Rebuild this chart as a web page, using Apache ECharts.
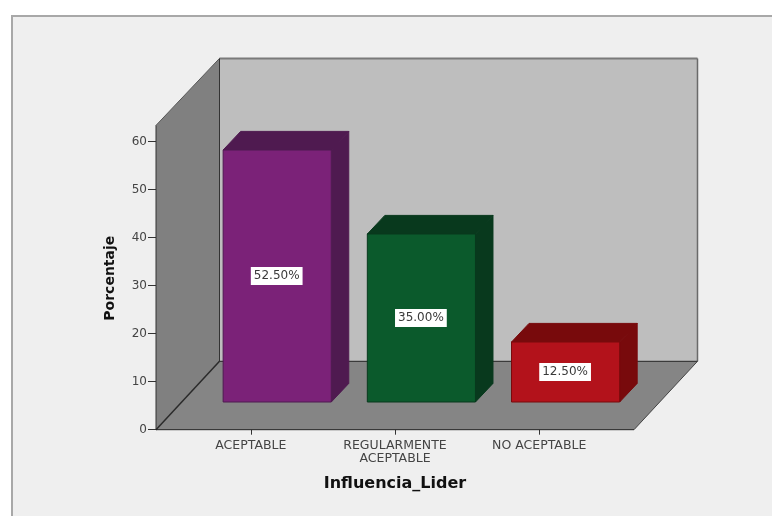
<!DOCTYPE html>
<html>
<head>
<meta charset="utf-8">
<style>html,body{margin:0;padding:0;background:#fff}#chart{width:772px;height:516px}</style>
<script src="https://cdn.jsdelivr.net/npm/echarts@6/dist/echarts.min.js"></script>
</head>
<body>
<div id="chart"></div>
<script>
// Influencia_Lider: percentage per category
const categories = ['ACEPTABLE', 'REGULARMENTE\nACEPTABLE', 'NO ACEPTABLE'];
const porcentajes = [52.5, 35.0, 12.5];
const frontColors = ['#7b2278', '#0b5a2c', '#b3121b'];
const shadeColors = ['#4f1a50', '#08391d', '#780a0c'];

// Box geometry in pixels
const WALL_TOP_VALUE = 63.4;   // height of the room on the value scale
const ROOM_DX = 63.5, ROOM_DY = 68.4, ROOM_TOP_DY = 67;   // depth of the room
const ROOM_SIDE = 22.7;        // floor overhang beyond the category band area
const BAR_DX = 26.4, BAR_DY = 27.7;     // bars stand in the middle of the floor
const BAR_DEPTH_X = 17.5, BAR_DEPTH_Y = 18.6;
const BAR_RATIO = 0.75;

const poly = (points, fill, stroke, lineWidth) => ({
  type: 'polygon',
  shape: { points },
  style: { fill, stroke: stroke || null, lineWidth: lineWidth || 0 }
});
const line = (x1, y1, x2, y2, stroke, lineWidth) => ({
  type: 'line',
  shape: { x1, y1, x2, y2 },
  style: { stroke, lineWidth: lineWidth || 1 }
});

function renderRoom(params, api) {
  const cs = params.coordSys;
  const y0 = api.coord([0, 0])[1];
  const yTop = api.coord([0, WALL_TOP_VALUE])[1];
  const xL = cs.x - ROOM_SIDE, xR = cs.x + cs.width + ROOM_SIDE;
  const bxL = xL + ROOM_DX, bxR = xR + ROOM_DX;
  const by0 = y0 - ROOM_DY, byTop = yTop - ROOM_TOP_DY;
  return {
    type: 'group',
    children: [
      poly([[bxL, byTop], [bxR, byTop], [bxR, by0], [bxL, by0]], '#bebebe'),
      poly([[xL, yTop], [bxL, byTop], [bxL, by0], [xL, y0]], '#808080'),
      poly([[xL, y0], [bxL, by0], [bxR, by0], [xR, y0]], '#858585'),
      line(xL, yTop, bxL, byTop, '#555', 1),
      line(bxL, byTop, bxR, byTop, '#7a7a7a', 2),
      line(bxR, byTop, bxR, by0, '#6a6a6a', 1.5),
      line(bxL, byTop, bxL, by0, '#333', 1),
      line(xL, yTop, xL, y0, '#333', 1),
      line(xL, y0, bxL, by0, '#2a2a2a', 1.5),
      line(bxL, by0, bxR, by0, '#222', 1),
      line(bxR, by0, xR, y0, '#444', 1),
      line(xL, y0, xR, y0, '#222', 1)
    ]
  };
}

function renderBar(params, api) {
  const i = api.value(0), v = api.value(1);
  const band = api.size([1, 0])[0];
  const w = band * BAR_RATIO;
  const cx = api.coord([i, 0])[0] + BAR_DX;
  const yB = api.coord([i, 0])[1] - BAR_DY;
  const yT = api.coord([i, v])[1] - BAR_DY;
  const xL = cx - w / 2, xR = cx + w / 2;
  const dx = BAR_DEPTH_X, dy = BAR_DEPTH_Y;
  const edgeColor = shadeColors[i];
  return {
    type: 'group',
    children: [
      poly([[xL, yT], [xL + dx, yT - dy], [xR + dx, yT - dy], [xR, yT]], shadeColors[i], edgeColor, 1),
      poly([[xR, yT], [xR + dx, yT - dy], [xR + dx, yB - dy], [xR, yB]], shadeColors[i], edgeColor, 1),
      poly([[xL, yT], [xR, yT], [xR, yB], [xL, yB]], frontColors[i], edgeColor, 1),
      {
        type: 'text',
        style: {
          x: cx - 0.5,
          y: (yT + yB) / 2,
          text: v.toFixed(2) + '%',
          align: 'center',
          verticalAlign: 'middle',
          fill: '#3a3a3a',
          font: '12px "DejaVu Sans"',
          backgroundColor: '#ffffff',
          padding: [3, 3, 3, 3]
        }
      }
    ]
  };
}

const chart = echarts.init(document.getElementById('chart'), null, { renderer: 'canvas' });
chart.setOption({
  animation: false,
  backgroundColor: '#ffffff',
  graphic: [{
    type: 'rect',
    z: -10,
    shape: { x: 12, y: 16, width: 800, height: 600 },
    style: { fill: '#efefef', stroke: '#a8a8a8', lineWidth: 2 }
  }],
  grid: { left: 178.7, width: 432.6, top: 141.7, height: 288 },
  xAxis: {
    type: 'category',
    data: categories,
    axisLine: { show: false },
    axisTick: { show: true, alignWithLabel: true, length: 5, lineStyle: { color: '#333' } },
    axisLabel: {
      margin: 10, color: '#444', fontFamily: 'DejaVu Sans', fontSize: 12.5, lineHeight: 12.5,
      interval: 0
    },
    name: 'Influencia_Lider',
    nameLocation: 'middle',
    nameGap: 46,
    nameTextStyle: { color: '#111', fontFamily: 'DejaVu Sans', fontWeight: 'bold', fontSize: 16 }
  },
  yAxis: {
    type: 'value',
    min: 0,
    max: 60,
    interval: 10,
    offset: 22.7,
    splitLine: { show: false },
    axisLine: { show: true, lineStyle: { color: '#333' } },
    axisTick: { show: true, length: 8, lineStyle: { color: '#333' } },
    axisLabel: { margin: 9, color: '#444', fontFamily: 'DejaVu Sans', fontSize: 12 },
    name: 'Porcentaje',
    nameLocation: 'middle',
    nameGap: 39,
    nameTextStyle: {
      color: '#111', fontFamily: 'DejaVu Sans', fontWeight: 'bold', fontSize: 14,
      padding: [0, 0, 0, 15]
    }
  },
  series: [
    {
      type: 'custom',
      name: 'Sala',
      clip: false,
      silent: true,
      z: 1,
      renderItem: renderRoom,
      data: [[0, 0]]
    },
    {
      type: 'custom',
      name: 'Porcentaje',
      clip: false,
      z: 2,
      renderItem: renderBar,
      encode: { x: 0, y: 1 },
      data: porcentajes.map((v, i) => [i, v])
    }
  ]
});
</script>
</body>
</html>
